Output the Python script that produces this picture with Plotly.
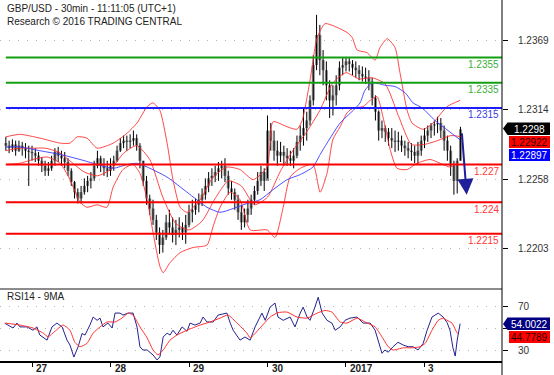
import plotly.graph_objects as go

# ---------------- DATA ----------------
# hourly bars; x = hours from 27 Dec 00:00 (weekend removed)
bar_hour = list(range(-8, 132))
high = [1.2292,1.2289,1.2290,1.2289,1.2289,1.2288,1.2287,1.2285,1.2285,1.2283,
        1.2280,1.2276,1.2273,1.2272,1.2277,1.2283,1.2284,1.2281,1.2280,1.2275,
        1.2267,1.2257,1.2251,1.2253,1.2259,1.2261,1.2264,1.2273,1.2281,1.2277,
        1.2275,1.2273,1.2275,1.2277,1.2285,1.2291,1.2293,1.2293,1.2294,1.2297,
        1.2294,1.2287,1.2273,1.2261,1.2246,1.2242,1.2230,1.2220,1.2218,1.2230,
        1.2234,1.2228,1.2226,1.2228,1.2224,1.2230,1.2238,1.2242,1.2243,1.2247,
        1.2251,1.2259,1.2264,1.2267,1.2269,1.2272,1.2273,1.2275,1.2265,1.2257,
        1.2251,1.2246,1.2238,1.2235,1.2242,1.2246,1.2253,1.2264,1.2269,1.2267,
        1.2309,1.2303,1.2297,1.2289,1.2288,1.2285,1.2283,1.2281,1.2283,1.2293,
        1.2301,1.2315,1.2312,1.2325,1.2357,1.2389,1.2381,1.2361,1.2352,1.2337,
        1.2333,1.2341,1.2352,1.2355,1.2355,1.2355,1.2353,1.2352,1.2349,1.2348,
        1.2347,1.2345,1.2339,1.2325,1.2313,1.2305,1.2301,1.2299,1.2299,1.2297,
        1.2296,1.2293,1.2289,1.2288,1.2287,1.2285,1.2288,1.2293,1.2299,1.2301,
        1.2303,1.2305,1.2308,1.2307,1.2301,1.2293,1.2285,1.2273,1.2275,1.2300]
low = [1.2281,1.2279,1.2280,1.2277,1.2280,1.2277,1.2275,1.2253,1.2273,1.2272,
       1.2269,1.2264,1.2261,1.2261,1.2265,1.2269,1.2272,1.2269,1.2267,1.2261,
       1.2253,1.2243,1.2239,1.2239,1.2246,1.2248,1.2251,1.2257,1.2267,1.2264,
       1.2261,1.2260,1.2261,1.2265,1.2272,1.2280,1.2283,1.2281,1.2283,1.2285,
       1.2281,1.2267,1.2253,1.2238,1.2230,1.2222,1.2210,1.2199,1.2200,1.2210,
       1.2214,1.2208,1.2206,1.2212,1.2210,1.2207,1.2220,1.2224,1.2230,1.2232,
       1.2237,1.2242,1.2248,1.2253,1.2256,1.2257,1.2259,1.2256,1.2246,1.2242,
       1.2234,1.2226,1.2218,1.2220,1.2224,1.2230,1.2238,1.2246,1.2253,1.2249,
       1.2259,1.2281,1.2273,1.2269,1.2272,1.2269,1.2269,1.2269,1.2267,1.2275,
       1.2281,1.2285,1.2289,1.2301,1.2317,1.2345,1.2341,1.2333,1.2321,1.2307,
       1.2309,1.2317,1.2329,1.2341,1.2344,1.2344,1.2341,1.2339,1.2337,1.2336,
       1.2334,1.2329,1.2317,1.2305,1.2289,1.2291,1.2288,1.2285,1.2283,1.2280,
       1.2281,1.2280,1.2277,1.2275,1.2273,1.2271,1.2270,1.2277,1.2283,1.2288,
       1.2291,1.2293,1.2295,1.2291,1.2281,1.2273,1.2261,1.2246,1.2247,1.2273]
close = [1.2285,1.2283,1.2286,1.2281,1.2285,1.2283,1.2281,1.2280,1.2279,1.2277,
         1.2273,1.2269,1.2265,1.2267,1.2273,1.2280,1.2277,1.2275,1.2272,1.2265,
         1.2256,1.2248,1.2243,1.2248,1.2253,1.2257,1.2259,1.2269,1.2275,1.2269,
         1.2267,1.2265,1.2269,1.2273,1.2281,1.2287,1.2289,1.2288,1.2289,1.2291,
         1.2285,1.2273,1.2257,1.2243,1.2235,1.2226,1.2216,1.2206,1.2212,1.2224,
         1.2220,1.2214,1.2218,1.2220,1.2216,1.2222,1.2232,1.2234,1.2238,1.2242,
         1.2246,1.2253,1.2259,1.2261,1.2264,1.2267,1.2269,1.2261,1.2251,1.2248,
         1.2242,1.2232,1.2224,1.2230,1.2235,1.2242,1.2249,1.2257,1.2264,1.2257,
         1.2297,1.2289,1.2281,1.2277,1.2280,1.2277,1.2275,1.2273,1.2277,1.2288,
         1.2293,1.2299,1.2305,1.2321,1.2349,1.2373,1.2353,1.2345,1.2333,1.2321,
         1.2325,1.2333,1.2347,1.2349,1.2352,1.2350,1.2347,1.2345,1.2342,1.2340,
         1.2339,1.2336,1.2323,1.2312,1.2297,1.2299,1.2296,1.2291,1.2289,1.2288,
         1.2289,1.2285,1.2283,1.2281,1.2280,1.2277,1.2281,1.2289,1.2293,1.2297,
         1.2301,1.2302,1.2303,1.2297,1.2289,1.2281,1.2269,1.2257,1.2273,1.2298]
first_open = 1.2287

# Bollinger bands (20) and moving average
upper_h = [-8.0,-3.7,2.4,8.6,11.6,13.8,16.8,19.9,24.8,29.1,32.1,35.2,37.0,39.1,41.3,43.1,45.3,47.4,
           51.4,55.4,59.6,63.6,67.6,71.9,73.7,78.0,81.0,82.6,85.0,87.2,89.6,93.3,96.3,97.9,99.4,
           102.4,104.9,106.4,108.6,111.0,112.5,114.7,116.2,119.6,122.6,126.9,130.9]
upper = [1.2292,1.2294,1.2291,1.2287,1.2287,1.2292,1.2291,1.2283,1.2287,1.2295,1.2303,1.2316,1.2319,
         1.2313,1.2287,1.2258,1.2236,1.2232,1.2242,1.2260,1.2268,1.2266,1.2258,1.2268,1.2304,1.2300,
         1.2298,1.2305,1.2337,1.2371,1.2382,1.2379,1.2375,1.2371,1.2361,1.2359,1.2353,1.2363,1.2370,
         1.2363,1.2343,1.2313,1.2303,1.2298,1.2303,1.2316,1.2321]
lower_h = [-8.0,-3.7,0.3,4.6,8.6,11.6,14.7,16.8,19.9,22.9,24.8,27.8,30.9,33.0,35.2,37.0,39.1,40.1,
           42.2,45.3,49.2,53.5,55.4,57.5,60.6,63.6,66.7,71.9,74.3,76.8,78.9,82.0,85.9,88.1,90.2,
           92.0,94.2,96.3,98.2,101.2,103.4,105.5,107.3,109.5,111.6,114.7,117.7,121.7,124.8,127.8,130.0]
lower = [1.2270,1.2271,1.2274,1.2276,1.2271,1.2258,1.2240,1.2236,1.2238,1.2236,1.2252,1.2266,1.2270,
         1.2263,1.2242,1.2216,1.2189,1.2184,1.2192,1.2200,1.2204,1.2206,1.2221,1.2236,1.2248,1.2242,
         1.2218,1.2218,1.2212,1.2236,1.2260,1.2267,1.2270,1.2248,1.2263,1.2290,1.2300,1.2311,1.2315,
         1.2316,1.2321,1.2324,1.2308,1.2282,1.2267,1.2266,1.2271,1.2274,1.2271,1.2268,1.2271]
mid_h = [-8,-4,0,4,8,12,16,20,24,28,32,36,40,44,48,52,56,60,64,68,72,76,80,84,88,92,96,100,104,
         108,112,116,120,124,128,131]
mid = [1.2281,1.2283,1.2283,1.2283,1.2280,1.2272,1.2264,1.2261,1.2266,1.2279,1.2285,1.2274,1.2244,
       1.2223,1.2218,1.2225,1.2243,1.2257,1.2253,1.2238,1.2244,1.2265,1.2282,1.2296,1.2313,1.2335,
       1.2343,1.2338,1.2339,1.2334,1.2309,1.2286,1.2286,1.2289,1.2293,1.22922]
ma_h = [-8.0,-3.7,2.4,8.6,14.7,18.7,24.8,29.1,32.1,35.2,41.3,47.4,53.5,57.5,61.5,65.7,69.7,73.7,
        78.0,82.0,85.9,88.1,90.2,94.2,98.2,100.3,101.8,104.0,108.0,111.0,114.1,116.5,119.3,123.2,
        127.2,130.9]
ma = [1.2284,1.2284,1.2281,1.2278,1.2274,1.2271,1.2267,1.2270,1.2271,1.2268,1.2260,1.2248,1.2236,
      1.2232,1.2235,1.2239,1.2242,1.2250,1.2258,1.2262,1.2268,1.2278,1.2287,1.2303,1.2313,1.2319,
      1.2329,1.2335,1.2333,1.2332,1.2327,1.2319,1.2315,1.2305,1.2297,1.22897]

# RSI(14) and its 9MA
rsi_h = [-8.3,-5.8,-4.6,-3.7,-1.5,0.3,1.5,2.4,4.6,6.1,7.6,9.2,10.7,11.6,12.8,14.1,15.3,16.2,17.7,
         18.7,19.9,20.8,21.7,23.2,24.5,25.4,26.9,27.8,29.4,30.9,32.1,33.0,33.9,35.2,37.0,38.2,39.1,
         40.1,41.3,42.2,43.1,44.3,45.9,47.4,48.3,49.8,51.4,52.3,53.5,55.4,56.9,59.6,60.6,61.5,63.6,
         65.1,66.7,68.2,70.3,71.3,72.8,74.3,75.2,76.8,78.9,80.4,82.0,82.9,84.1,85.0,86.5,87.5,88.7,
         90.2,91.7,92.7,94.2,95.7,97.2,99.4,101.2,103.4,104.9,105.8,107.0,107.9,108.9,110.4,111.9,
         113.5,115.0,116.5,118.0,119.6,120.8,122.3,124.2,125.7,126.9,127.8,128.7,129.4,130.0,130.9]
rsi = [54.3,50,54.5,51,51,48,51,43.6,39,51,54.5,51,39,34.5,23.6,33,45,43.6,52.7,60,57,59,51,54.5,
       50,63.6,63.6,61.8,63.6,63.6,51,33,30,30,25.5,21,23.6,41.8,45.4,43.6,48,43.6,51,47,54.5,52.7,
       54.5,60,55.5,55.5,61.8,63.6,54.5,48,39,41.8,39,51,63.6,57,69,72.7,60,57,60,51,63.6,69,60,57,
       69,78,63.6,57,54.5,48,51,57,59,60,54.5,54.5,48,39,27,30,28,33,37,34.5,33,33,30,36,48,60,
       63.6,60,55,48,32,24.5,39,54.0022]
rsi_ma_h = [-8.3,-3.7,0.3,3.4,4.9,7.0,9.5,11.6,13.1,14.7,16.8,18.7,20.8,22.9,25.4,27.5,29.4,30.9,
            33.0,35.2,37.0,38.5,40.1,42.2,44.3,47.4,51.4,54.4,57.5,59.9,62.7,65.7,66.7,69.7,72.8,
            75.2,78.0,81.0,84.1,87.2,89.6,91.7,94.2,96.3,99.4,101.8,104.9,107.0,108.9,110.4,113.5,
            116.5,118.7,120.2,122.3,124.2,125.7,126.9,128.4,130.0,130.3]
rsi_ma = [54.5,52.7,50,45.4,42,47,52.7,48,37,33,36,45.4,51,55.5,55.5,59,63.6,61.8,51,41,30,25.5,
          30,39,43.6,48,52.7,55.5,59,61.8,54.5,45.4,41,50,60,64,64.5,60,59,63.6,66,64.5,55.5,54.5,
          59,55.5,51,42,33,30,32,32,33,36,48,57,59,57,54.5,45.4,44.7789]

levels = [1.2355, 1.2335, 1.2315, 1.2270, 1.2240, 1.2215]
level_text = ["1.2355", "1.2335", "1.2315", "1.227", "1.224", "1.2215"]
level_kind = ["res", "res", "pivot", "sup", "sup", "sup"]

price_ticks = [1.2203, 1.2258, 1.2314, 1.2369]
day_ticks = [0, 24, 48, 72, 96, 120]
day_labels = ["27", "28", "29", "30", "2017", "3"]

last_price = "1.2298"
mid_last = "1.22922"
ma_last = "1.22897"
rsi_last = "54.0022"
rsi_ma_last = "44.7789"
target_from = (131.4, 1.2296)
target_to = (132.9, 1.2246)

# ---------------- LAYOUT HELPERS ----------------
W, H = 554, 375
ML, MR, MT, MB = 0, 52, 0, 14
PW, PH = W - ML - MR, H - MT - MB
FONT = "Liberation Sans, Arial, sans-serif"

def xp(px):
    return (px - ML) / PW

def yp(py):
    return (PH - (py - MT)) / PH

def path(points):
    s = "M " + " L ".join(f"{xp(a):.5f},{yp(b):.5f}" for a, b in points) + " Z"
    return s

fig = go.Figure()

# candle bodies and wicks
opens = [first_open] + close[:-1]
bx, by, wx, wy = [], [], [], []
for h, o, hi, lo, c in zip(bar_hour, opens, high, low, close):
    bx += [h, h, None]
    by += [o, c, None]
    wx += [h, h, None]
    wy += [lo, hi, None]

fig.add_trace(go.Scatter(x=bx, y=by, mode="lines", line=dict(color="#8a8a8a", width=3),
                         xaxis="x", yaxis="y", hoverinfo="skip"))
fig.add_trace(go.Scatter(x=wx, y=wy, mode="lines", line=dict(color="#000000", width=1),
                         xaxis="x", yaxis="y", hoverinfo="skip"))

band_col = "rgba(255,40,40,0.85)"
fig.add_trace(go.Scatter(x=upper_h, y=upper, mode="lines", line=dict(color=band_col, width=1, shape="spline", smoothing=0.6), xaxis="x", yaxis="y"))
fig.add_trace(go.Scatter(x=lower_h, y=lower, mode="lines", line=dict(color=band_col, width=1, shape="spline", smoothing=0.6), xaxis="x", yaxis="y"))
fig.add_trace(go.Scatter(x=mid_h, y=mid, mode="lines", line=dict(color=band_col, width=1, shape="spline", smoothing=0.6), xaxis="x", yaxis="y"))
fig.add_trace(go.Scatter(x=ma_h, y=ma, mode="lines", line=dict(color="rgba(60,60,255,0.9)", width=1, shape="spline", smoothing=0.6), xaxis="x", yaxis="y"))

# RSI
fig.add_trace(go.Scatter(x=rsi_h, y=rsi, mode="lines", line=dict(color="#22228f", width=1), xaxis="x2", yaxis="y2"))
fig.add_trace(go.Scatter(x=rsi_ma_h, y=rsi_ma, mode="lines", line=dict(color="#ff3030", width=1, shape="spline", smoothing=0.5), xaxis="x2", yaxis="y2"))

shapes = []
annotations = []

colors = {"res": ("#12a012", "#3aae3a"), "pivot": ("#1c1cff", "#3a3ae6"), "sup": ("#ff0000", "#ff3838")}
for lv, txt, kind in zip(levels, level_text, level_kind):
    lc, tc = colors[kind]
    shapes.append(dict(type="line", xref="x", yref="y", x0=bar_hour[0], x1=143.7, y0=lv, y1=lv,
                       line=dict(color=lc, width=2)))
    annotations.append(dict(xref="paper", yref="y", x=xp(501), y=lv, yshift=-7, xanchor="right",
                            yanchor="middle", text=txt, showarrow=False,
                            font=dict(family=FONT, size=10, color=tc)))

# separator lines and right axis
shapes.append(dict(type="line", xref="paper", yref="paper", x0=0, x1=1, y0=yp(289), y1=yp(289),
                   line=dict(color="#8c8c8c", width=2)))
shapes.append(dict(type="line", xref="paper", yref="paper", x0=1, x1=1, y0=yp(375), y1=1,
                   line=dict(color="#000000", width=1)))

# value boxes
shapes.append(dict(type="path", xref="paper", yref="paper", line=dict(width=0), fillcolor="#000000",
                   path=path([(503, 128.5), (507.5, 122.5), (550, 122.5), (550, 135), (507.5, 135)])))
shapes.append(dict(type="rect", xref="paper", yref="paper", line=dict(width=0), fillcolor="#ff0000",
                   x0=xp(509), x1=xp(550), y0=yp(148), y1=yp(136)))
shapes.append(dict(type="rect", xref="paper", yref="paper", line=dict(width=0), fillcolor="#0000ff",
                   x0=xp(509), x1=xp(550), y0=yp(161), y1=yp(149)))
shapes.append(dict(type="path", xref="paper", yref="paper", line=dict(width=0), fillcolor="#000080",
                   path=path([(503, 324), (507.5, 317.5), (550, 317.5), (550, 330), (507.5, 330)])))
shapes.append(dict(type="rect", xref="paper", yref="paper", line=dict(width=0), fillcolor="#ff0000",
                   x0=xp(509), x1=xp(550), y0=yp(343), y1=yp(331)))

for txt, cx, cy, col in [(last_price, 529, 129, "#ffffff"), (mid_last, 529.5, 142.3, "#300000"),
                         (ma_last, 529.5, 155.3, "#ffffff"), (rsi_last, 529, 324, "#ffffff"),
                         (rsi_ma_last, 529.5, 337.3, "#300000")]:
    annotations.append(dict(xref="paper", yref="paper", x=xp(cx), y=yp(cy), xanchor="center",
                            yanchor="middle", text=txt, showarrow=False,
                            font=dict(family=FONT, size=10, color=col)))

# titles
annotations.append(dict(xref="paper", yref="paper", x=xp(5), y=yp(8.5), xanchor="left", yanchor="middle",
                        text="GBP/USD - 30min - 11:11:05 (UTC+1)", showarrow=False,
                        font=dict(family=FONT, size=10, color="#222222")))
annotations.append(dict(xref="paper", yref="paper", x=xp(5), y=yp(21), xanchor="left", yanchor="middle",
                        text="Research © 2016 TRADING CENTRAL", showarrow=False,
                        font=dict(family=FONT, size=10, color="#222222")))
annotations.append(dict(xref="paper", yref="paper", x=xp(5), y=yp(296.5), xanchor="left", yanchor="middle",
                        text="RSI14 - 9MA", showarrow=False,
                        font=dict(family=FONT, size=10, color="#222222")))

# day labels
for dv, dl in zip(day_ticks, day_labels):
    annotations.append(dict(xref="x", yref="paper", x=dv, xshift=2, y=yp(368), xanchor="left",
                            yanchor="middle", text=f"<b>{dl}</b>", showarrow=False,
                            font=dict(family=FONT, size=10, color="#222222")))

# target arrow
annotations.append(dict(xref="x", yref="y", x=target_to[0], y=target_to[1], axref="x", ayref="y",
                        ax=target_from[0], ay=target_from[1], showarrow=True, arrowhead=2,
                        arrowsize=1.6, arrowwidth=2, arrowcolor="#1f1f9a", text="", standoff=0))

split = yp(289)
fig.update_layout(
    width=W, height=H, margin=dict(l=ML, r=MR, t=MT, b=MB, autoexpand=False),
    paper_bgcolor="#ffffff", plot_bgcolor="#ffffff", showlegend=False,
    font=dict(family=FONT, size=10, color="#333333"),
    shapes=shapes, annotations=annotations,
    xaxis=dict(domain=[0, 1], range=[-9.79, 143.7], anchor="y", showticklabels=False, showgrid=False,
               zeroline=False, showline=False, ticks=""),
    yaxis=dict(domain=[split, 1], range=[1.217104, 1.24008], anchor="x", side="right",
               tickvals=price_ticks, ticktext=[f"{v:.4f}" for v in price_ticks], ticks="outside",
               ticklen=5, tickcolor="#000000", tickfont=dict(family=FONT, size=10, color="#333333"),
               showgrid=True, gridcolor="#b4b4b4", griddash="1px,8px", gridwidth=1,
               zeroline=False, showline=False, ticklabelstandoff=8),
    xaxis2=dict(domain=[0, 1], matches="x", anchor="y2", tickvals=day_ticks, ticktext=day_labels,
                showticklabels=False, ticks="outside", ticklen=4, tickcolor="#000000",
                showgrid=False, zeroline=False, showline=True, linecolor="#000000", linewidth=1.5),
    yaxis2=dict(domain=[0, split], range=[20, 85.5], anchor="x2", side="right",
                tickvals=[30, 50, 70], ticktext=["30", "", "70"], ticks="outside", ticklen=5,
                tickcolor="#000000", tickfont=dict(family=FONT, size=10, color="#333333"),
                showgrid=True, gridcolor="#b4b4b4", griddash="1px,8px", gridwidth=1,
                zeroline=False, showline=False, ticklabelstandoff=8),
)

fig.write_html("out.html", config={"displayModeBar": False},
               post_script="document.body.style.margin='0px';")
